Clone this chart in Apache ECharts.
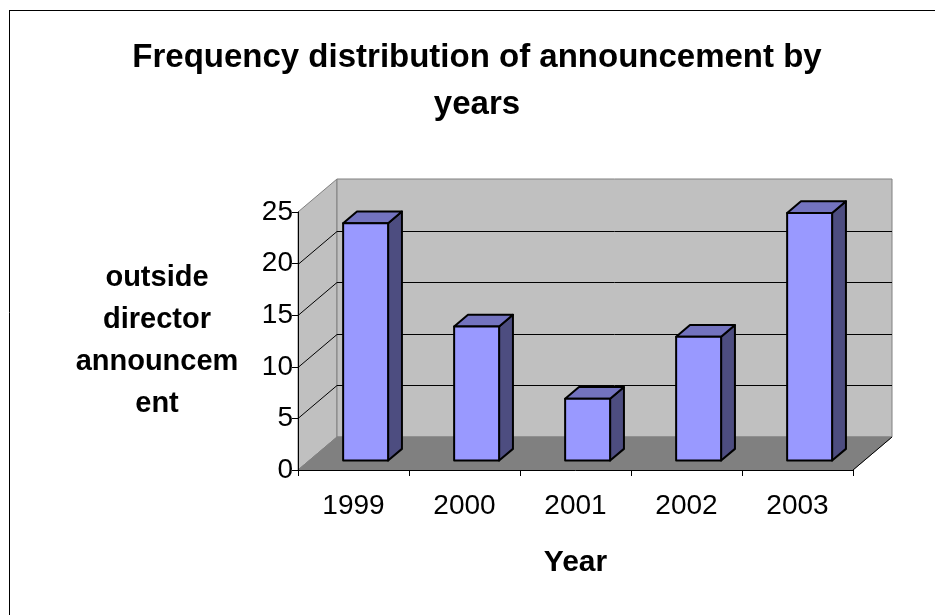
<!DOCTYPE html>
<html><head><meta charset="utf-8">
<script src="https://cdn.jsdelivr.net/npm/echarts@6/dist/echarts.min.js"></script>
<style>html,body{margin:0;padding:0;background:#fff}#c{width:935px;height:615px}</style>
</head><body><div id="c"></div>
<script>
// ---- data ----
const categories = ['1999', '2000', '2001', '2002', '2003'];
const announcements = [23, 13, 6, 12, 24];
const yTicks = [0, 5, 10, 15, 20, 25];
const titleLines = ['Frequency distribution of announcement by', 'years'];
const yNameLines = ['outside', 'director', 'announcem', 'ent'];
const xName = 'Year';

// ---- style constants ----
const FONT = "'Liberation Sans', Arial, Helvetica, sans-serif";
const DX = 39, DY = -33;          // 3D depth offset of the walls (px)
const F1 = 0.285, F2 = 0.64;      // bar front/back depth fractions
const BAR_W = 0.405;              // bar width as fraction of band

const chart = echarts.init(document.getElementById('c'), null, { renderer: 'canvas' });

function wallsItem(params, api) {
  const cs = params.coordSys;
  const L = cs.x, R = cs.x + cs.width;
  const y0 = api.coord([0, yTicks[0]])[1];
  const yTop = api.coord([0, yTicks[yTicks.length - 1]])[1];
  const ch = [];
  ch.push({ type: 'polygon', shape: { points: [[L, y0], [L, yTop], [L + DX, yTop + DY], [L + DX, y0 + DY]] },
    style: { fill: '#c0c0c0', stroke: '#808080', lineWidth: 1 } });
  ch.push({ type: 'polygon', shape: { points: [[L + DX, yTop + DY], [R + DX, yTop + DY], [R + DX, y0 + DY], [L + DX, y0 + DY]] },
    style: { fill: '#c0c0c0', stroke: '#808080', lineWidth: 1 } });
  ch.push({ type: 'polygon', shape: { points: [[L, y0], [R, y0], [R + DX, y0 + DY], [L + DX, y0 + DY]] },
    style: { fill: '#808080', stroke: '#808080', lineWidth: 1 } });
  ch.push({ type: 'line', shape: { x1: R, y1: y0, x2: R + DX, y2: y0 + DY }, style: { stroke: '#000', lineWidth: 1 } });
  yTicks.slice(1, -1).forEach(function (v) {
    const y = Math.round(api.coord([0, v])[1]) + 0.5;
    ch.push({ type: 'line', shape: { x1: L, y1: y, x2: L + DX, y2: y + DY }, style: { stroke: '#000', lineWidth: 1 } });
    ch.push({ type: 'line', shape: { x1: L + DX, y1: y + DY, x2: R + DX, y2: y + DY }, style: { stroke: '#000', lineWidth: 1 } });
  });
  return { type: 'group', children: ch, silent: true };
}

function barItem(params, api) {
  const i = api.value(0), v = api.value(1);
  const base = api.coord([i, 0]);
  const top = api.coord([i, v]);
  const band = api.size([1, 0])[0];
  const hw = band * BAR_W / 2;
  const cx = base[0] + F1 * DX + 1;
  const xl = cx - hw, xr = cx + hw;
  const yb = base[1] + F1 * DY, yt = top[1] + F1 * DY;
  const ddx = (F2 - F1) * DX, ddy = (F2 - F1) * DY;
  const st = { stroke: '#000', lineWidth: 2, lineJoin: 'round' };
  return { type: 'group', children: [
    { type: 'polygon', shape: { points: [[xr, yt], [xr + ddx, yt + ddy], [xr + ddx, yb + ddy], [xr, yb]] }, style: Object.assign({ fill: '#4d4d80' }, st) },
    { type: 'polygon', shape: { points: [[xl, yt], [xl + ddx, yt + ddy], [xr + ddx, yt + ddy], [xr, yt]] }, style: Object.assign({ fill: '#7373bf' }, st) },
    { type: 'polygon', shape: { points: [[xl, yt], [xr, yt], [xr, yb], [xl, yb]] }, style: Object.assign({ fill: '#9999ff' }, st) }
  ] };
}

const option = {
  animation: false,
  backgroundColor: '#ffffff',
  title: {
    text: titleLines.join('\n'),
    left: 477, top: 34, padding: 0, textAlign: 'center',
    textStyle: { fontFamily: FONT, fontSize: 33, fontWeight: 'bold', lineHeight: 47, color: '#000' }
  },
  grid: { left: 298, right: 82, top: 212, bottom: 145 },
  xAxis: {
    type: 'category', data: categories, z: 10,
    axisLine: { lineStyle: { color: '#000', width: 1 } },
    axisTick: { show: true, length: 6, lineStyle: { color: '#000' } },
    axisLabel: { fontFamily: FONT, fontSize: 28, color: '#000', margin: 22 },
    splitLine: { show: false },
    name: xName, nameLocation: 'middle', nameGap: 78,
    nameTextStyle: { fontFamily: FONT, fontSize: 30, fontWeight: 'bold', color: '#000' }
  },
  yAxis: {
    type: 'value', min: 0, max: 25, interval: 5, z: 10,
    axisLine: { show: true, lineStyle: { color: '#000', width: 1 } },
    axisTick: { show: true, length: 6, lineStyle: { color: '#000' } },
    axisLabel: { fontFamily: FONT, fontSize: 28, color: '#000', margin: 5 },
    splitLine: { show: false },
    name: yNameLines.join('\n'), nameLocation: 'middle', nameRotate: 0, nameGap: 141,
    nameTextStyle: { fontFamily: FONT, fontSize: 29, fontWeight: 'bold', color: '#000', lineHeight: 42, align: 'center', verticalAlign: 'middle', padding: [6, 0, 0, 0] }
  },
  graphic: [
    { type: 'line', shape: { x1: 9.5, y1: 10, x2: 9.5, y2: 615 }, style: { stroke: '#000', lineWidth: 1 }, silent: true },
    { type: 'line', shape: { x1: 9, y1: 10.5, x2: 935, y2: 10.5 }, style: { stroke: '#000', lineWidth: 1 }, silent: true }
  ],
  series: [
    { type: 'custom', name: 'walls', renderItem: wallsItem, data: [[0, 0]], z: 1, silent: true },
    { type: 'custom', name: 'announcements', renderItem: barItem, z: 2,
      data: categories.map(function (c, i) { return [i, announcements[i]]; }) }
  ]
};
chart.setOption(option);
</script></body></html>
